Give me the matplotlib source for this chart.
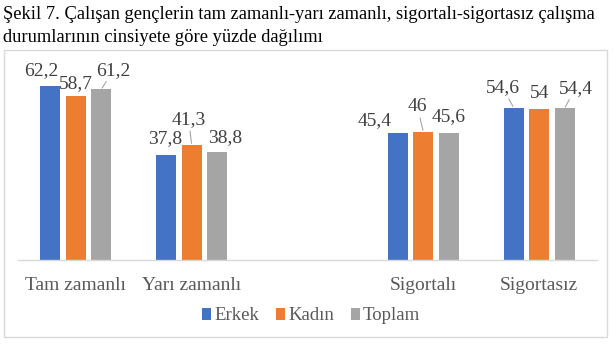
import matplotlib.pyplot as plt
from matplotlib.patches import Rectangle
import numpy as np

plt.rcParams['font.family'] = ['Liberation Serif', 'DejaVu Serif']

title = ('Şekil 7. Çalışan gençlerin tam zamanlı-yarı zamanlı, sigortalı-sigortasız çalışma\n'
         'durumlarının cinsiyete göre yüzde dağılımı')
categories = ['Tam zamanlı', 'Yarı zamanlı', '', 'Sigortalı', 'Sigortasız']
series_names = ['Erkek', 'Kadın', 'Toplam']
erkek = [62.2, 37.8, None, 45.4, 54.6]
kadin = [58.7, 41.3, None, 46, 54]
toplam = [61.2, 38.8, None, 45.6, 54.4]

colors = ['#4472c4', '#ed7d31', '#a5a5a5']

# label offsets (pixels) from the top of each bar, and whether a leader line is drawn
label_offsets = [
    [(-9, 16), (0, 13), (12, 19)],
    [(-1, 16), (-3, 25), (8, 14)],
    [None, None, None],
    [(-23, 13), (-6, 25), (0, 16)],
    [(-11, 20), (0, 16), (11, 20)],
]
leader = [
    [False, False, True],
    [False, True, False],
    [False, False, False],
    [False, True, False],
    [True, False, True],
]


def fmt(v):
    s = f'{v:.1f}'.replace('.', ',')
    return s[:-2] if s.endswith(',0') else s


fig = plt.figure(figsize=(6.13, 3.44), dpi=100)
fig.patch.set_facecolor('white')

# chart frame
fig.add_artist(Rectangle((4 / 613, 7 / 344), 603 / 613, 287 / 344, transform=fig.transFigure,
                         fill=False, edgecolor='#d9d9d9', linewidth=1.0))

fig.text(3 / 613, 1 - 6 / 344, title, ha='left', va='top', fontsize=13.3, color='black',
         linespacing=1.45)

ax = fig.add_axes([18 / 613, 84 / 344, 579 / 613, 195.3 / 344])
x = np.arange(len(categories))
step = 0.22
width = 0.173
for i, (name, vals) in enumerate(zip(series_names, [erkek, kadin, toplam])):
    xs = [xi + (i - 1) * step for xi, v in zip(x, vals) if v is not None]
    hs = [v for v in vals if v is not None]
    ax.bar(xs, hs, width=width, color=colors[i], label=name, zorder=2)

for ci in range(len(categories)):
    for si, vals in enumerate([erkek, kadin, toplam]):
        v = vals[ci]
        if v is None:
            continue
        dx, dy = label_offsets[ci][si]
        props = dict(arrowstyle='-', color='#a6a6a6', lw=0.8, shrinkA=0, shrinkB=1) if leader[ci][si] else None
        ax.annotate(fmt(v), xy=(x[ci] + (si - 1) * step, v), xytext=(dx, dy),
                    textcoords='offset pixels', ha='center', va='center',
                    fontsize=14, color='#404040', arrowprops=props)

ax.set_xlim(-0.5, len(categories) - 0.5)
ax.set_ylim(0, 70)
ax.set_xticks(x)
ax.set_xticklabels(categories, fontsize=14, color='#595959')
ax.tick_params(axis='x', length=0, pad=12)
ax.set_yticks([])
for side in ['top', 'right', 'left']:
    ax.spines[side].set_visible(False)
ax.spines['bottom'].set_color('#d9d9d9')
ax.spines['bottom'].set_linewidth(1.0)

fig.legend(loc='center', bbox_to_anchor=(311 / 613, 1 - 316 / 344), ncol=3, frameon=False,
           fontsize=13.5, handlelength=0.5, handleheight=0.55, handletextpad=0.15,
           columnspacing=0.9, labelcolor='#595959')

fig.savefig('out.png', dpi=100)
